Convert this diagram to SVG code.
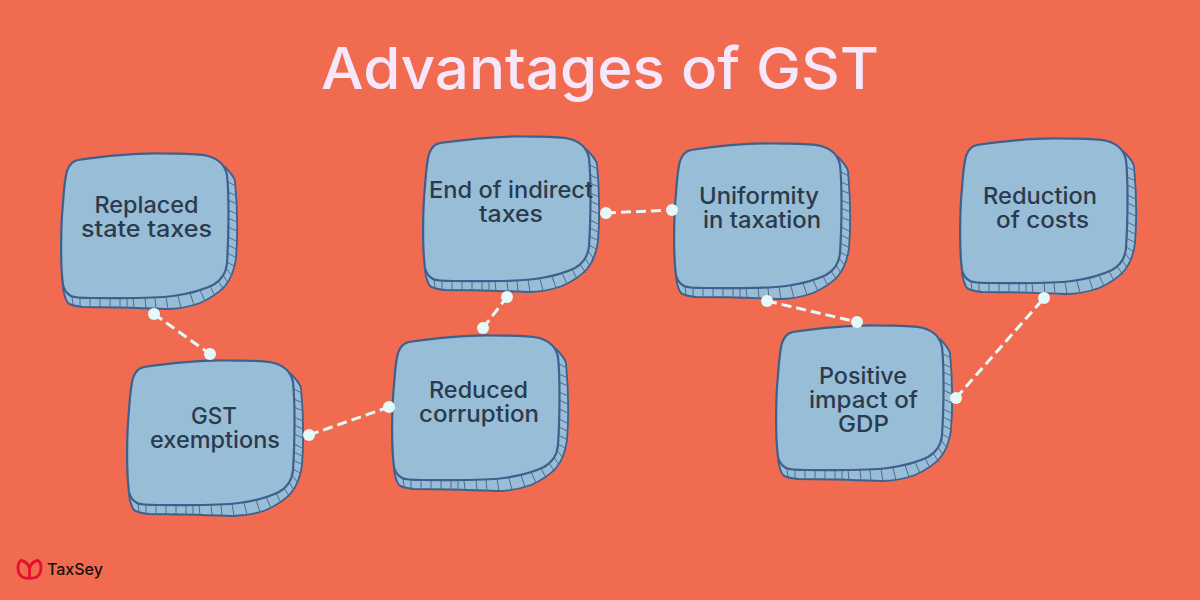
<svg xmlns="http://www.w3.org/2000/svg" width="1200" height="600" viewBox="0 0 1200 600">
<style>
.t{font-family:"Inter","Liberation Sans",sans-serif;font-weight:500;font-size:23px;fill:#2b3a4c;text-anchor:middle}
.face{fill:#98bdd6;stroke:#3f5f8c;stroke-width:2.2;stroke-linejoin:round}
.rim{fill:#98bdd6;stroke:#3f5f8c;stroke-width:1.8;stroke-linejoin:round}
.tick{fill:none;stroke:#55688c;stroke-width:1}
.c{fill:none;stroke:#e4f9f8;stroke-width:3;stroke-dasharray:10 5}
.d{fill:#e4f9f8}
</style>
<defs>
<g id="box">
<path class="rim" d="M164 14 C170 20 173 24 174 28 C176 50 177 80 175 105 C173 120 169 127 164 133 C156 142 148 146 139 150 C128 154 116 156 105 156 C80 155 50 154 22 154 C14 153 9 152 7 150 C4 146 3 141 2 135 Z"/>
<path class="tick" d="M167 29L175 33M167 39L176 43M167 47L176 51M167 57L176 61M167 65L176 69M167 74L176 78M167 84L175 88M167 92L175 96M166 100L174 104M166 109L173 113M165 115L171 123M162 122L167 130M157 128L163 137M149 133L154 143M139 137L144 148M129 140L133 152M117 143L120 155M105 144L107 156M94 145L95 156M84 145L85 155M72 145L73 155M66 145L66 155M59 145L59 155M49 145L49 154M39 145L39 154M29 145L29 154M19 145L19 153M11 144L12 151"/>
<path class="face" d="M17 7 C45 3 75 0 100 0.5 C120 1 135 0 147 3 C158 6 164 12 166 22 C168 40 168 80 166 110 C165 122 159 128 152 132 C140 138 126 141 112 143 C90 146 60 145 30 145 C20 145 14 145 10 143 C5 140 3 137 2 132 C-1 110 0 70 2 50 C3 35 4 25 6 18 C8 12 12 8 17 7 Z"/>
</g>
</defs>
<rect width="1200" height="600" fill="#f06b4f"/>
<text x="600" y="89" text-anchor="middle" font-family="Inter,'Liberation Sans',sans-serif" font-weight="500" font-size="58" fill="#f6e7fb" textLength="558" lengthAdjust="spacingAndGlyphs">Advantages of GST</text>
<g id="n1"><use href="#box" x="61" y="153"/><text class="t" x="146.5" y="213" textLength="104" lengthAdjust="spacingAndGlyphs">Replaced</text><text class="t" x="146.5" y="237" textLength="131" lengthAdjust="spacingAndGlyphs">state taxes</text></g>
<g id="n2"><use href="#box" x="127" y="360"/><text class="t" x="214" y="424" textLength="46" lengthAdjust="spacingAndGlyphs">GST</text><text class="t" x="215" y="448" textLength="130" lengthAdjust="spacingAndGlyphs">exemptions</text></g>
<g id="n3"><use href="#box" x="392" y="335"/><text class="t" x="478.5" y="398" textLength="99" lengthAdjust="spacingAndGlyphs">Reduced</text><text class="t" x="479" y="422" textLength="120" lengthAdjust="spacingAndGlyphs">corruption</text></g>
<g id="n4"><use href="#box" x="423" y="136"/><text class="t" x="511" y="198" textLength="164" lengthAdjust="spacingAndGlyphs">End of indirect</text><text class="t" x="511" y="222" textLength="64" lengthAdjust="spacingAndGlyphs">taxes</text></g>
<g id="n5"><use href="#box" x="674" y="143"/><text class="t" x="759" y="204" textLength="120" lengthAdjust="spacingAndGlyphs">Uniformity</text><text class="t" x="762" y="228" textLength="118" lengthAdjust="spacingAndGlyphs">in taxation</text></g>
<g id="n6"><use href="#box" x="776" y="325"/><text class="t" x="863" y="384" textLength="88" lengthAdjust="spacingAndGlyphs">Positive</text><text class="t" x="863.5" y="408" textLength="109" lengthAdjust="spacingAndGlyphs">impact of</text><text class="t" x="863.5" y="432" textLength="51" lengthAdjust="spacingAndGlyphs">GDP</text></g>
<g id="n7"><use href="#box" x="960" y="138"/><text class="t" x="1040" y="204" textLength="114" lengthAdjust="spacingAndGlyphs">Reduction</text><text class="t" x="1042.5" y="228" textLength="93" lengthAdjust="spacingAndGlyphs">of costs</text></g>
<g id="connectors">
<path class="c" d="M154 314 L210 354"/>
<path class="c" d="M309 435 L389 407"/>
<path class="c" d="M483 328 L507 297"/>
<path class="c" d="M606 213 L672 210"/>
<path class="c" d="M767 301 L857 322"/>
<path class="c" d="M956 398 L1044 298"/>
<g class="d">
<circle cx="154" cy="314" r="6"/><circle cx="210" cy="354" r="6"/>
<circle cx="309" cy="435" r="6"/><circle cx="389" cy="407" r="6"/>
<circle cx="483" cy="328" r="6"/><circle cx="507" cy="297" r="6"/>
<circle cx="606" cy="213" r="6"/><circle cx="672" cy="210" r="6"/>
<circle cx="767" cy="301" r="6"/><circle cx="857" cy="322" r="6"/>
<circle cx="956" cy="398" r="6"/><circle cx="1044" cy="298" r="6"/>
</g>
</g>
<g id="logo">
<path d="M21 560.500 C17 563 17 572 21 576 C24 579 35 579 38 576 C42 572 42 563 38 560.500 C34 561 31 564 29.500 568 C28 564 25 561 21 560.500 Z M29.500 568 L29.500 578" fill="none" stroke="#e8112d" stroke-width="2.800"/>
<text x="47" y="575" font-family="Inter,'Liberation Sans',sans-serif" font-weight="500" font-size="16" fill="#111">TaxSey</text>
</g>
</svg>
